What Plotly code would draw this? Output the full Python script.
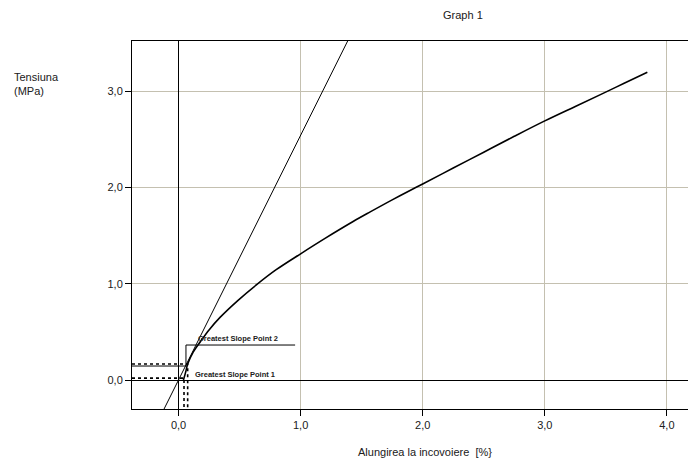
import plotly.graph_objects as go

# --- data ---
curve_x = [0.040, 0.045, 0.060, 0.075, 0.12, 0.18, 0.25, 0.34, 0.49, 0.64, 0.80, 1.00,
           1.20, 1.43, 1.57, 1.75, 1.90, 2.00, 2.25, 2.50, 2.75, 3.00, 3.25, 3.46, 3.65, 3.84]
curve_y = [0.000, 0.020, 0.090, 0.166, 0.29, 0.40, 0.52, 0.65, 0.83, 0.99, 1.145, 1.31,
           1.47, 1.645, 1.745, 1.87, 1.97, 2.035, 2.20, 2.365, 2.53, 2.69, 2.84, 2.965, 3.08, 3.195]

tangent_slope = 2.54
tangent_intercept = 0.0
tangent_span = [-0.2, 1.6]

point1 = (0.045, 0.020)
point2 = (0.075, 0.166)
label2_leader_x = [-0.381, 0.061, 0.061, 0.955]
label2_leader_y = [0.145, 0.145, 0.363, 0.363]

x_ticks = [0, 1, 2, 3, 4]
y_ticks = [0, 1, 2, 3]
x_range = [-0.381, 4.173]
y_range = [-0.301, 3.519]

title_text = "Graph 1"
x_title = "Alungirea la incovoiere  [%}"
y_title = "Tensiuna<br>(MPa)"
label1 = "Greatest Slope Point 1"
label2 = "Greatest Slope Point 2"

FONT = "Liberation Sans, Arial, sans-serif"
TXT = "#202020"
GRID = "#c4c0b0"

# plot area in pixels (for placing paper-referenced text)
L, R, T, B = 132, 688, 41, 409


def px(xp):
    return (xp - L) / (R - L)


def py(yp):
    return (B - yp) / (B - T)


fig = go.Figure()

# tangent line
tx = tangent_span
ty = [tangent_slope * v + tangent_intercept for v in tx]
fig.add_trace(go.Scatter(x=tx, y=ty, mode="lines",
                         line=dict(color="black", width=1), hoverinfo="skip"))

# dotted guides to the greatest slope points
for (gx, gy) in (point1, point2):
    fig.add_trace(go.Scatter(x=[x_range[0], gx, gx], y=[gy, gy, y_range[0]], mode="lines",
                             line=dict(color="black", width=1.6, dash="dot"), hoverinfo="skip"))

# label leader line
fig.add_trace(go.Scatter(x=label2_leader_x, y=label2_leader_y, mode="lines",
                         line=dict(color="black", width=1), hoverinfo="skip"))

# measured curve
fig.add_trace(go.Scatter(x=curve_x, y=curve_y, mode="lines",
                         line=dict(color="black", width=1.6, shape="spline", smoothing=1.0),
                         hoverinfo="skip"))

fig.add_annotation(x=0.14, y=0.363, xref="x", yref="y", text="<b>" + label2 + "</b>",
                   showarrow=False, xanchor="left", yanchor="bottom",
                   font=dict(family=FONT, size=7.5, color=TXT))
fig.add_annotation(x=0.12, y=0.06, xref="x", yref="y", text="<b>" + label1 + "</b>",
                   showarrow=False, xanchor="left", yanchor="middle",
                   font=dict(family=FONT, size=7.5, color=TXT))

fig.add_annotation(x=px(463), y=py(15), xref="paper", yref="paper",
                   text=title_text, showarrow=False, xanchor="center", yanchor="middle",
                   font=dict(family=FONT, size=11, color=TXT))
fig.add_annotation(x=px(425), y=py(452), xref="paper", yref="paper",
                   text=x_title, showarrow=False, xanchor="center", yanchor="middle",
                   font=dict(family=FONT, size=11, color=TXT))
fig.add_annotation(x=px(12), y=py(84), xref="paper", yref="paper",
                   text=y_title, showarrow=False, xanchor="left", yanchor="middle", align="left",
                   font=dict(family=FONT, size=11, color=TXT))

fig.update_layout(
    width=688, height=468,
    margin=dict(l=L, r=688 - R, t=T, b=468 - B),
    paper_bgcolor="white", plot_bgcolor="white",
    showlegend=False,
    separators=",.",
    font=dict(family=FONT, size=11, color=TXT),
    xaxis=dict(range=x_range, tickvals=x_ticks, tickformat=".1f",
               showgrid=True, gridcolor=GRID, gridwidth=1,
               zeroline=True, zerolinecolor="black", zerolinewidth=1,
               showline=True, linecolor="black", linewidth=1, mirror=True,
               ticks="outside", ticklen=6, tickcolor="black"),
    yaxis=dict(range=y_range, tickvals=y_ticks, tickformat=".1f",
               showgrid=True, gridcolor=GRID, gridwidth=1,
               zeroline=True, zerolinecolor="black", zerolinewidth=1,
               showline=True, linecolor="black", linewidth=1,
               ticks="outside", ticklen=6, tickcolor="black"),
)

fig.write_html("out.html")
